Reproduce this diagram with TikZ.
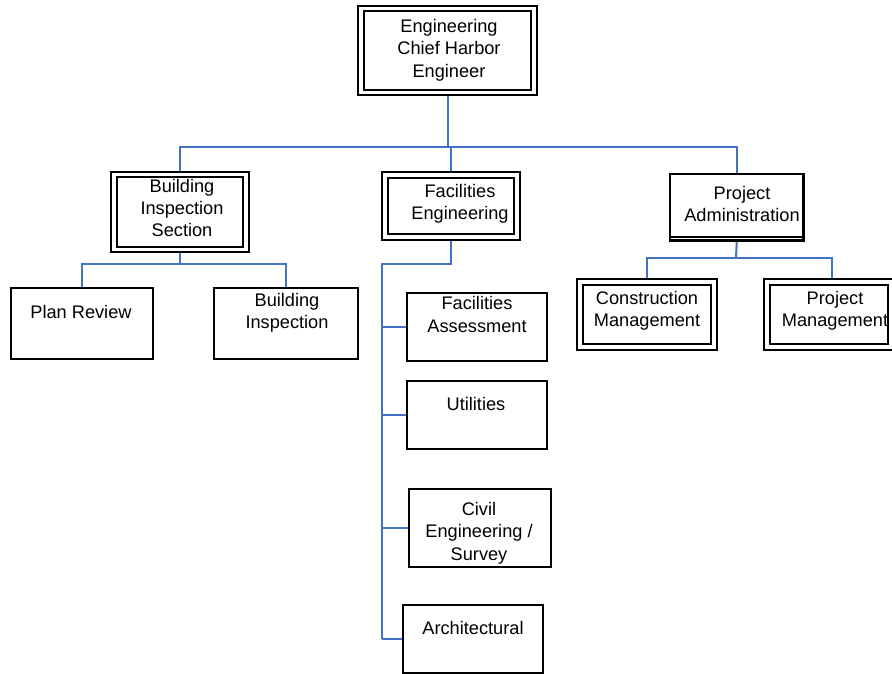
\documentclass[tikz,border=0pt]{standalone}
\usepackage{fontspec}
\setmainfont{Liberation Sans}
\usepackage{xcolor}
\usetikzlibrary{backgrounds}
\definecolor{linkblue}{RGB}{68,114,196}

\begin{document}
\begin{tikzpicture}[
  x=1pt, y=-1pt,
  txt/.style={align=center, font=\fontsize{18.2}{22.3}\selectfont, inner sep=0pt},
  box/.style={draw, line width=2pt, fill=white, inner sep=0pt},
  dbox/.style={box, double, line width=1.8pt, double distance=3.8pt},
  ln/.style={draw=linkblue, line width=2pt},
]
\useasboundingbox (0,0) rectangle (892,674);

% boxes
\node[dbox, minimum width=173pt, minimum height=84pt] (top) at (447.5,50.5) {};
\node[dbox, minimum width=132pt, minimum height=75pt] (bis) at (180,212) {};
\node[dbox, minimum width=132pt, minimum height=62pt] (fe) at (451,206) {};
\node[box, line width=2.6pt, minimum width=133.5pt, minimum height=66.5pt] (pa) at (736.75,207.25) {};
\draw[line width=1.6pt] ([yshift=4.6pt]pa.south west) -- ([yshift=4.6pt]pa.south east);
\node[dbox, minimum width=134pt, minimum height=65pt] (cm) at (647,314.5) {};
\node[dbox, minimum width=124pt, minimum height=65pt] (pm) at (829,314.5) {};

\node[box, minimum width=142pt, minimum height=71pt] (plan) at (82,323.5) {};
\node[box, minimum width=144pt, minimum height=71pt] (binsp) at (286,323.5) {};
\node[box, minimum width=140pt, minimum height=68pt] (fa) at (477,327) {};
\node[box, minimum width=140pt, minimum height=68pt] (util) at (477,415) {};
\node[box, minimum width=142pt, minimum height=78pt] (civil) at (480,528) {};
\node[box, minimum width=140pt, minimum height=68pt] (arch) at (473,639) {};

% texts
\node[txt] (topT) at (449,50) {Engineering\\Chief Harbor\\Engineer};
\node[txt] (bisT) at (182,208) {Building\\Inspection\\Section};
\node[txt] (feT) at (460,204) {Facilities\\Engineering};
\node[txt] (paT) at (742,204) {Project\\Administration};
\node[txt] (cmT) at (647,311) {Construction\\Management};
\node[txt] (pmT) at (835,311) {Project\\Management};
\node[txt] (planT) at (81,312) {Plan Review};
\node[txt] (binspT) at (287,313) {Building\\Inspection};
\node[txt] (faT) at (477,314.5) {Facilities\\Assessment};
\node[txt] (utilT) at (476,404) {Utilities};
\node[txt] (civilT) at (479,533) {Civil\\Engineering /\\Survey};
\node[txt] (archT) at (473,628) {Architectural};

% connectors
\coordinate (bus) at (447,147);
\coordinate (bisbus) at (180,264);
\coordinate (fecorner) at (382,264);
\coordinate (pabus) at (736,258);
\begin{scope}[on background layer]
\draw[ln] (top.south) -- (top.south |- bus);
\draw[ln] (bis.north) |- (bus) -| (pa.north);
\draw[ln] (fe.north) -- (fe.north |- bus);

\draw[ln] (bis.south) -- (bisbus);
\draw[ln] (plan.north) |- (bisbus) -| (binsp.north);

\draw[ln] (fe.south) |- (fecorner) -- (fecorner |- arch.west);
\draw[ln] (fecorner |- fa.west) -- (fa.west);
\draw[ln] (fecorner |- util.west) -- (util.west);
\draw[ln] (fecorner |- civil.west) -- (civil.west);
\draw[ln] (fecorner |- arch.west) -- (arch.west);

\draw[ln] (pa.south) -- (pabus);
\draw[ln] (cm.north) |- (pabus) -| ([xshift=3pt]pm.north);
\end{scope}
\end{tikzpicture}
\end{document}
